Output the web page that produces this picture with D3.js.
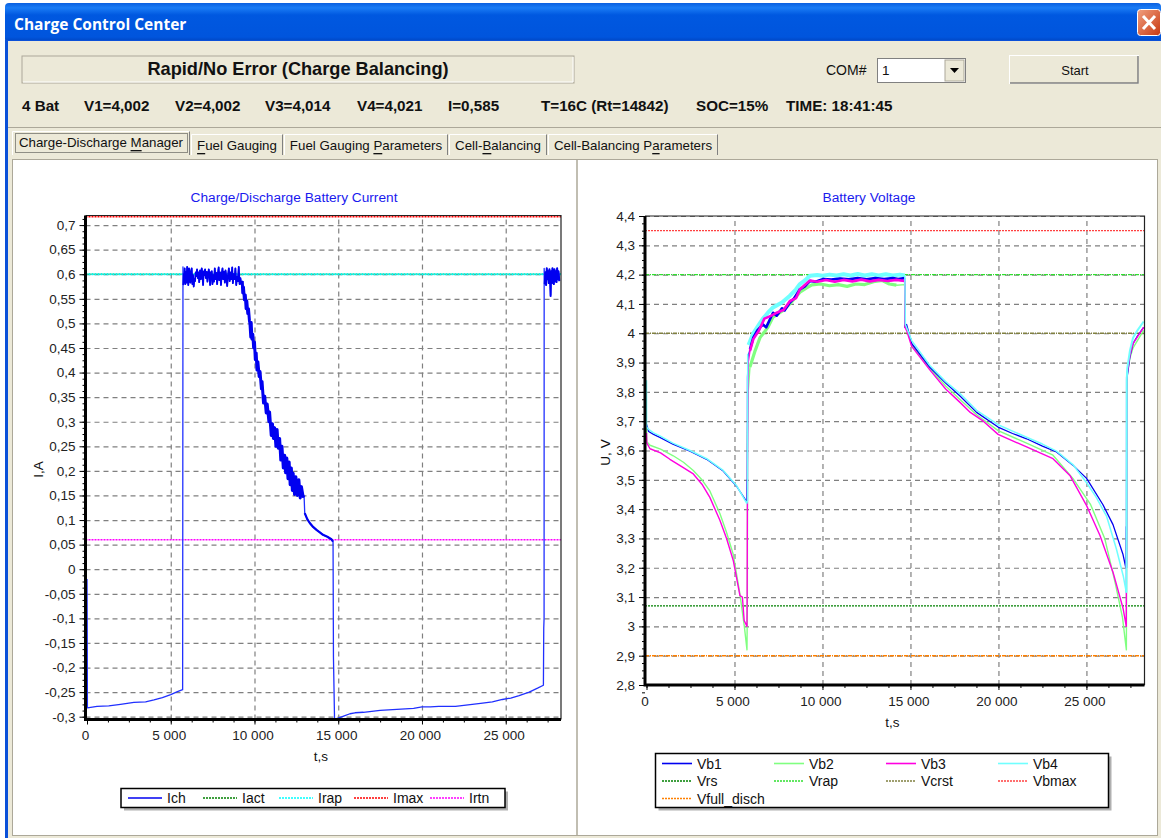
<!DOCTYPE html>
<html>
<head>
<meta charset="utf-8">
<title>Charge Control Center</title>
<script src="https://cdn.jsdelivr.net/npm/d3@7"></script>
<style>
html, body { margin: 0; padding: 0; background: #fff; }
svg { display: block; font-family: "Liberation Sans", Arial, sans-serif; }
.tick text { font-size: 13.5px; fill: #222; }
.grid line { stroke: #808080; stroke-width: 1.2; stroke-dasharray: 5 4; }
.grid path { display: none; }
.minor text { display: none; }
.minor path { display: none; }
</style>
</head>
<body>
<svg id="app" width="1161" height="838"></svg>
<script>
// header text
const statusText = 'Rapid/No Error (Charge Balancing)';
const readouts = [
    ['4 Bat', 22], ['V1=4,002', 84], ['V2=4,002', 175], ['V3=4,014', 265], ['V4=4,021', 357],
    ['I=0,585', 448], ['T=16C (Rt=14842)', 541], ['SOC=15%', 696], ['TIME: 18:41:45', 786]
];
// label, left, right, index of the underlined mnemonic letter
const tabs = [
    ['Charge-Discharge Manager', 12, 190, 17], ['Fuel Gauging', 191, 283, 0], ['Fuel Gauging Parameters', 284, 448, 13],
    ['Cell-Balancing', 449, 547, 5], ['Cell-Balancing Parameters', 548, 718, 16]
];

// shared time axis
const tTicks = [0, 5000, 10000, 15000, 20000, 25000];
const tMinor = d3.range(0, 28250, 1250);

// current chart, values
const iTicks = [0.7,0.65,0.6,0.55,0.5,0.45,0.4,0.35,0.3,0.25,0.2,0.15,0.1,0.05,0,-0.05,-0.1,-0.15,-0.2,-0.25,-0.3];
const ich = [
    [0,-0.02],[10,-0.1],[25,-0.282],[600,-0.279],[1300,-0.278],[2000,-0.275],[2800,-0.271],[3500,-0.27],
    [4000,-0.266],[4500,-0.261],[5000,-0.255],[5400,-0.249],[5710,-0.245],[5730,0.615],
    [5750,0.578],[5780,0.6],[5800,0.585],[5830,0.612],[5870,0.58],[5900,0.605],[5940,0.583],[5980,0.615],[6010,0.59],
    [6050,0.578],[6090,0.612],[6130,0.595],[6170,0.583],[6210,0.606],[6250,0.612],[6290,0.58],[6330,0.598],[6370,0.575],
    [6410,0.59],[6450,0.586],[6490,0.604],[6530,0.596],[6570,0.61],[6620,0.592],[6660,0.604],[6700,0.584],[6750,0.608],
    [6800,0.59],[6850,0.612],[6890,0.6],[6930,0.578],[6970,0.606],[7010,0.598],[7050,0.61],[7100,0.592],[7150,0.605],
    [7190,0.585],[7230,0.598],[7270,0.61],[7310,0.6],[7350,0.578],[7400,0.604],[7450,0.606],[7490,0.58],[7530,0.598],
    [7580,0.585],[7630,0.612],[7670,0.59],[7720,0.603],[7770,0.58],[7810,0.6],[7860,0.614],[7900,0.588],[7950,0.604],
    [8000,0.578],[8040,0.6],[8090,0.612],[8130,0.59],[8180,0.605],[8230,0.583],[8270,0.608],[8320,0.595],[8370,0.576],
    [8420,0.598],[8470,0.612],[8520,0.586],[8570,0.604],[8620,0.59],[8670,0.614],[8710,0.582],[8760,0.6],[8810,0.59],
    [8860,0.612],[8910,0.578],[8960,0.595],[9010,0.586],[9060,0.615],[9110,0.58],[9160,0.592],[9210,0.58],
    [9270,0.586],[9300,0.562],[9340,0.574],[9400,0.548],[9450,0.558],[9500,0.53],[9540,0.546],[9600,0.52],[9640,0.53],
    [9700,0.505],[9730,0.5],[9780,0.472],[9800,0.502],[9850,0.468],[9900,0.478],[9950,0.45],[10000,0.462],[10050,0.426],
    [10100,0.44],[10150,0.405],[10200,0.422],[10280,0.392],[10330,0.402],[10415,0.367],[10450,0.382],[10540,0.338],
    [10610,0.352],[10700,0.318],[10760,0.336],[10860,0.3],[10900,0.32],[11000,0.272],[11070,0.296],[11130,0.266],
    [11200,0.288],[11280,0.25],[11350,0.284],[11420,0.246],[11500,0.266],[11570,0.222],[11640,0.25],[11720,0.206],
    [11800,0.232],[11860,0.196],[11930,0.226],[12000,0.184],[12070,0.218],[12130,0.172],[12200,0.206],[12260,0.16],
    [12310,0.195],[12390,0.152],[12470,0.188],[12560,0.15],[12650,0.182],[12730,0.145],[12800,0.168],[12900,0.148],
    [12960,0.15],[13000,0.114],[13150,0.102],[13300,0.094],[13500,0.086],[13700,0.08],[13900,0.075],[14090,0.07],
    [14350,0.066],[14590,0.061],[14690,0.056],[14715,-0.18],[14780,-0.305],[15000,-0.303],[15400,-0.298],[15700,-0.294],
    [16000,-0.292],[16500,-0.291],[17000,-0.289],[17500,-0.287],[18000,-0.286],[18500,-0.285],[19000,-0.284],[19500,-0.283],
    [20000,-0.28],[20500,-0.28],[21000,-0.279],[22000,-0.279],[22500,-0.277],[23000,-0.275],[23500,-0.273],[24200,-0.27],
    [24800,-0.265],[25300,-0.262],[25800,-0.257],[26400,-0.25],[26900,-0.242],[27250,-0.236],[27270,-0.12],[27290,-0.1],
    [27295,0.612],[27330,0.58],[27370,0.604],[27410,0.578],[27450,0.612],[27490,0.59],[27530,0.606],[27570,0.582],
    [27610,0.61],[27650,0.59],[27680,0.556],[27710,0.606],[27750,0.582],[27790,0.612],[27830,0.594],[27870,0.58],
    [27910,0.61],[27950,0.586],[27990,0.606],[28030,0.584],[28070,0.612],[28110,0.59],[28150,0.606],[28200,0.586]
];
const iact = 0.6, irap = 0.6, imax = 0.717, irtn = 0.06;

// voltage chart, values
const uTicks = [4.4,4.3,4.2,4.1,4,3.9,3.8,3.7,3.6,3.5,3.4,3.3,3.2,3.1,3,2.9,2.8];
const vb1 = [
    [0,3.69],[120,3.665],[400,3.655],[760,3.645],[1500,3.622],[2470,3.598],[3420,3.57],[4360,3.53],[5120,3.478],[5700,3.425],
    [5715,3.5],[5730,3.5],[5740,3.85],[5780,3.92],[5880,3.945],[6070,3.985],[6300,4.01],[6620,4.03],[6800,4.02],[7190,4.07],
    [7400,4.06],[7700,4.085],[7850,4.078],[8150,4.105],[8400,4.12],[8720,4.15],[9000,4.16],[9290,4.178],[9600,4.176],[10050,4.185],
    [10500,4.183],[11000,4.187],[11500,4.184],[12000,4.188],[12500,4.184],[13000,4.188],[13500,4.185],[14000,4.188],[14300,4.185],[14670,4.188],
    [14690,4.02],[14780,4.03],[15070,3.965],[16100,3.884],[17000,3.83],[17800,3.787],[18760,3.73],[19980,3.68],[20800,3.658],[21600,3.64],
    [22500,3.615],[23300,3.595],[24230,3.55],[25010,3.505],[25940,3.415],[26510,3.347],[27080,3.245],[27240,3.2],[27260,3.34],[27280,3.2],
    [27290,3.84],[27470,3.92],[27650,3.965],[27900,3.99],[28250,4.02]
];
const vb2 = [
    [0,3.68],[20,3.63],[200,3.618],[800,3.605],[1520,3.582],[2100,3.56],[2660,3.532],[3150,3.5],[3600,3.462],[4170,3.385],[4550,3.32],
    [4930,3.245],[5310,3.11],[5560,3.0],[5710,2.92],[5730,3.08],[5740,3.66],[5780,3.8],[5880,3.885],[6170,3.94],[6450,3.985],[6900,4.02],
    [7190,4.055],[7700,4.075],[8150,4.1],[8720,4.14],[9100,4.155],[9400,4.165],[9900,4.168],[10400,4.162],[10900,4.166],[11400,4.16],
    [11900,4.168],[12400,4.166],[12900,4.176],[13400,4.18],[13800,4.168],[14200,4.164],[14680,4.166],[14700,4.02],[14780,4.02],[15070,3.96],
    [16100,3.88],[17000,3.82],[17800,3.775],[18760,3.722],[19980,3.668],[21600,3.625],[23100,3.584],[24230,3.505],[25240,3.415],[26040,3.3],
    [26650,3.144],[27050,3.03],[27270,2.92],[27285,3.25],[27290,3.72],[27320,3.86],[27470,3.915],[27650,3.95],[28250,4.01]
];
const vb3 = [
    [0,3.66],[20,3.625],[200,3.606],[800,3.592],[1330,3.57],[2000,3.545],[2660,3.52],[3150,3.485],[3600,3.44],[4170,3.362],[4550,3.3],
    [4930,3.225],[5310,3.105],[5450,3.1],[5550,3.02],[5710,3.0],[5720,3.11],[5740,3.54],[5760,3.72],[5780,3.9],[5880,3.94],[6070,3.98],
    [6400,4.01],[6700,4.05],[7100,4.06],[7400,4.07],[7800,4.08],[8150,4.11],[8500,4.12],[8720,4.15],[9290,4.18],[9700,4.176],[10200,4.182],
    [10700,4.176],[11200,4.182],[11700,4.177],[12200,4.183],[12700,4.177],[13200,4.182],[13700,4.178],[14200,4.182],[14670,4.178],[14690,4.02],
    [14780,4.01],[15070,3.955],[16100,3.875],[17000,3.81],[17800,3.765],[18400,3.73],[19140,3.7],[19980,3.655],[21600,3.612],[23100,3.572],
    [24060,3.515],[25010,3.412],[25770,3.31],[26510,3.185],[27080,3.062],[27265,3.0],[27275,3.3],[27285,3.85],[27470,3.925],[27650,3.965],[28250,4.02]
];
const vb4 = [
    [0,3.84],[5,3.68],[120,3.672],[400,3.66],[760,3.65],[1500,3.625],[2470,3.6],[3420,3.572],[4360,3.532],[5120,3.48],[5700,3.42],[5740,3.43],
    [5750,3.93],[5800,3.96],[6070,4.0],[6400,4.03],[6620,4.05],[6900,4.07],[7190,4.088],[7700,4.105],[8150,4.128],[8500,4.15],[8720,4.168],
    [9000,4.18],[9290,4.196],[9700,4.199],[10000,4.196],[10400,4.2],[10800,4.197],[11200,4.201],[11600,4.197],[12000,4.202],[12400,4.197],
    [12800,4.201],[13200,4.197],[13600,4.201],[14000,4.197],[14400,4.2],[14680,4.197],[14710,4.03],[15070,3.975],[16100,3.89],[17000,3.835],
    [17800,3.795],[18760,3.737],[19980,3.688],[21600,3.645],[22500,3.622],[23300,3.598],[24230,3.552],[25010,3.49],[25560,3.44],[26150,3.375],
    [26700,3.265],[27100,3.17],[27270,3.115],[27290,3.84],[27320,3.88],[27470,3.94],[27650,3.985],[27900,4.01],[28250,4.04]
];
const vrs = 3.07, vrap = 4.2, vcrst = 4, vbmax = 4.35, vfull = 2.9;

const svg = d3.select('#app');
const commaFmt = d => String(+d.toFixed(2)).replace('.', ',');
const timeFmt = d => d === 0 ? '0' : `${d / 1000} 000`;
const sans = '"Liberation Sans", Arial, sans-serif';

function text(s, x, y, opts={}) {
    return svg.append('text').text(s)
        .attr('x', x).attr('y', y)
        .attr('dominant-baseline', 'central')
        .attr('text-anchor', opts.anchor ?? 'start')
        .attr('font-size', opts.size ?? 13)
        .attr('font-weight', opts.weight ?? 'normal')
        .attr('font-family', opts.family ?? sans)
        .attr('fill', opts.color ?? '#111');
}

function rect(x, y, w, h, fill, stroke, rx) {
    return svg.append('rect').attr('x', x).attr('y', y).attr('width', w).attr('height', h)
        .attr('fill', fill).attr('stroke', stroke ?? 'none').attr('rx', rx ?? 0);
}

// --- window chrome ---
const defs = svg.append('defs');
const titleGrad = defs.append('linearGradient').attr('id', 'titlebar').attr('x1', 0).attr('x2', 0).attr('y1', 0).attr('y2', 1);
titleGrad.append('stop').attr('offset', '0%').attr('stop-color', '#0a5fe0');
titleGrad.append('stop').attr('offset', '12%').attr('stop-color', '#1a7cf5');
titleGrad.append('stop').attr('offset', '30%').attr('stop-color', '#0058e0');
titleGrad.append('stop').attr('offset', '85%').attr('stop-color', '#0055dd');
titleGrad.append('stop').attr('offset', '100%').attr('stop-color', '#0040b8');
const closeGrad = defs.append('linearGradient').attr('id', 'closebtn').attr('x1', 0).attr('x2', 1).attr('y1', 0).attr('y2', 1);
closeGrad.append('stop').attr('offset', '0%').attr('stop-color', '#f0a080');
closeGrad.append('stop').attr('offset', '100%').attr('stop-color', '#c83810');

rect(5, 3, 1156, 40, 'url(#titlebar)', null, 4);
rect(5, 40, 1156, 798, '#0a50d8');
rect(8, 41, 1153, 797, '#ece9d8');
text('Charge Control Center', 14, 24, { size: 15.5, weight: 'bold', color: '#fff', family: '"Open Sans", sans-serif' });
rect(1137.5, 9.5, 23, 26, 'url(#closebtn)', '#fff', 3);
svg.append('path').attr('d', 'M1143,16 L1155,29 M1155,16 L1143,29').attr('stroke', '#fff').attr('stroke-width', 3);

rect(22, 56, 552, 27, '#ece9d8', '#aca899');
svg.append('path').attr('d', 'M23,82 H573 V57').attr('fill', 'none').attr('stroke', '#fff');
text(statusText, 298, 69, { size: 18.2, weight: 'bold', anchor: 'middle' });
text('COM#', 826, 70, { size: 14 });
rect(877.5, 58.5, 88, 24, '#fff', '#808080');
text('1', 882, 70, { size: 13.5 });
rect(945, 60, 19, 21, '#ece9d8', '#aca899');
svg.append('path').attr('d', 'M950,68 h9 l-4.5,5 z').attr('fill', '#000');
rect(1009.5, 55.5, 129, 28, '#ece9d8', '#fff');
svg.append('path').attr('d', 'M1010,83 H1138 V56').attr('fill', 'none').attr('stroke', '#808080').attr('stroke-width', 1.5);
text('Start', 1075, 70, { size: 13, anchor: 'middle' });

readouts.forEach(([s, x]) => text(s, x, 105, { size: 15.2, weight: 'bold' }));

svg.append('line').attr('x1', 8).attr('x2', 1161).attr('y1', 127.5).attr('y2', 127.5).attr('stroke', '#aca899');
rect(12.5, 159.5, 1145, 676, '#fff', '#aca899');
svg.append('line').attr('x1', 577).attr('x2', 577).attr('y1', 160).attr('y2', 836).attr('stroke', '#aca899').attr('stroke-width', 1.5);
tabs.forEach(([s, x0, x1, u], i) => {
    const top = i === 0 ? 131 : 134;
    rect(x0 + 0.5, top + 0.5, x1 - x0 - 1, 155 - top, '#ece9d8');
    svg.append('path').attr('d', `M${x0 + 0.5},155 V${top + 0.5} H${x1 - 0.5}`).attr('fill', 'none').attr('stroke', '#fff');
    svg.append('path').attr('d', `M${x1 - 0.5},${top + 0.5} V155`).attr('fill', 'none').attr('stroke', '#808080');
    const label = text('', (x0 + x1) / 2, i === 0 ? 142 : 145, { size: 13.3, anchor: 'middle' });
    label.append('tspan').text(s.slice(0, u));
    label.append('tspan').attr('text-decoration', 'underline').text(s[u]);
    label.append('tspan').text(s.slice(u + 1));
});
rect(15.5, 133.5, 172, 19, 'none', '#333').attr('stroke-dasharray', '1 1');

// --- chart panel ---
function drawPanel({ x0, x1, top, bottom, frameLeft, tDomain, uDomain, yTicks, yMinorStep, title, titleX, yLabel, yLabelX }) {
    const X = d3.scaleLinear().domain(tDomain).range([x0, x1]);
    const Y = d3.scaleLinear().domain(uDomain).range([bottom, top]);
    const g = svg.append('g');
    const gridT = tTicks.slice(1);
    g.append('g').attr('class', 'grid').attr('transform', `translate(0,${bottom})`)
        .call(d3.axisBottom(X).tickValues(gridT).tickSize(-(bottom - top)).tickFormat(''));
    g.append('g').attr('class', 'grid').attr('transform', `translate(${frameLeft},0)`)
        .call(d3.axisLeft(Y).tickValues(yTicks).tickSize(-(x1 - frameLeft)).tickFormat(''));

    const minorY = d3.range(uDomain[0] - uDomain[0] % yMinorStep, uDomain[1], yMinorStep);
    g.append('g').attr('class', 'minor').attr('transform', `translate(${frameLeft},0)`)
        .call(d3.axisLeft(Y).tickValues(minorY).tickSize(3));
    g.append('g').attr('class', 'minor').attr('transform', `translate(0,${bottom})`)
        .call(d3.axisBottom(X).tickValues(tMinor).tickSize(3));

    const yAxis = g.append('g').attr('transform', `translate(${frameLeft},0)`)
        .call(d3.axisLeft(Y).tickValues(yTicks).tickSize(6).tickPadding(4).tickFormat(commaFmt));
    yAxis.select('.domain').remove();
    const xAxis = g.append('g').attr('transform', `translate(0,${bottom})`)
        .call(d3.axisBottom(X).tickValues(tTicks).tickSize(5).tickPadding(6).tickFormat(timeFmt));
    xAxis.select('.domain').remove();
    xAxis.selectAll('text').attr('dx', -2);

    const line = d3.line().x(d => X(d[0])).y(d => Y(d[1])).curve(d3.curveLinear);
    const plotArea = g.append('g');
    const hline = (value, color, dash, width=1.4) => plotArea.append('line')
        .attr('x1', frameLeft).attr('x2', x1).attr('y1', Y(value)).attr('y2', Y(value))
        .attr('stroke', color).attr('stroke-width', width).attr('stroke-dasharray', dash);
    const series = (data, color, width) => plotArea.append('path').datum(data)
        .attr('d', line).attr('fill', 'none').attr('stroke', color).attr('stroke-width', width)
        .attr('stroke-linejoin', 'round');

    // frame under the marks at the top, thick spines over them
    g.append('path').attr('d', `M${frameLeft},${top} H${x1} V${bottom}`).attr('fill', 'none').attr('stroke', '#222').attr('stroke-width', 1.2);
    g.append('path').attr('d', `M${frameLeft},${top} V${bottom} H${x1}`).attr('fill', 'none').attr('stroke', '#000').attr('stroke-width', 3);

    text(title, titleX, 197.5, { size: 13.7, anchor: 'middle', color: '#1a1aee' });
    text('t,s', (x0 + x1) / 2 - 3, bottom + 37, { size: 13.5, anchor: 'middle' });
    text(yLabel, 0, 0, { size: 13.5, anchor: 'middle' }).attr('transform', `translate(${yLabelX},${(top + bottom) / 2 + 2}) rotate(-90)`);
    return { hline, series };
}

function drawLegend(box, items) {
    rect(box[0] + 3, box[1] + 3, box[2], box[3], '#b0b0b0');
    rect(box[0], box[1], box[2], box[3], '#fff', '#000').attr('stroke-width', 1.5);
    items.forEach(d => {
        svg.append('line').attr('x1', d.x).attr('x2', d.x + d.len).attr('y1', d.y).attr('y2', d.y)
            .attr('stroke', d.color).attr('stroke-width', d.dash ? 1.4 : 1.6).attr('stroke-dasharray', d.dash ?? null);
        text(d.label, d.x + d.len + 5, d.y, { size: 14 });
    });
}

const between = (data, from, to) => data.filter(d => d[0] >= from && d[0] <= to);

// --- left: current ---
const left = drawPanel({
    x0: 87, x1: 561, top: 215.5, bottom: 719.5, frameLeft: 85.5,
    tDomain: [0, 28300], uDomain: [-0.3057, 0.7195], yTicks: iTicks, yMinorStep: 0.0125,
    title: 'Charge/Discharge Battery Current', titleX: 294, yLabel: 'I,A', yLabelX: 38
});
left.hline(iact, '#008000', '2 1');
left.hline(irap, '#00ffff', '2 1', 1.8);
left.hline(imax, '#ff0000', '2 1');
left.hline(irtn, '#ff00ff', '2 1');
left.series(ich, '#2030ff', 1.3);
// the noisy stretches read as a solid thick band in the picture
left.series(between(ich, 5750, 9270), '#0000f0', 1.8);
left.series(between(ich, 9270, 12960), '#0000f0', 3);
left.series(between(ich, 13000, 14690), '#0000f0', 2.2);
left.series(between(ich, 27330, 28200), '#0000f0', 2);

const currentLegend = [
    ['Ich', 128, '#0000f0', null], ['Iact', 203, '#008000', '2 1'], ['Irap', 279, '#00ffff', '2 1'],
    ['Imax', 354, '#ff0000', '2 1'], ['Irtn', 430, '#ff00ff', '2 1']
];
drawLegend([121, 788.5, 384, 19], currentLegend.map(([label, x, color, dash]) => ({ label, x, y: 798, len: 34, color, dash })));

// --- right: voltage ---
const right = drawPanel({
    x0: 646.5, x1: 1144.5, top: 216, bottom: 685, frameLeft: 645,
    tDomain: [0, 28300], uDomain: [2.8, 4.4], yTicks: uTicks, yMinorStep: 0.025,
    title: 'Battery Voltage', titleX: 869, yLabel: 'U, V', yLabelX: 605
});
right.hline(vrs, '#008000', '2 1');
right.hline(vrap, '#30e030', '4 1 1 1');
right.hline(vcrst, '#808040', '4 1 1 1');
right.hline(vbmax, '#ff4040', '2 1');
right.hline(vfull, '#ff8000', '4 1 1 1');
const chargeBand = [5880, 14670];
right.series(between(vb4, 5800, 14680), '#70ffff', 4);
right.series(between(vb2, ...chargeBand), '#80ff80', 3.2);
right.series(vb2, '#80ff80', 1.4);
right.series(between(vb1, ...chargeBand), '#0000f0', 2.6);
right.series(vb1, '#0000f0', 1.3);
right.series(between(vb3, ...chargeBand), '#ff00e0', 2.6);
right.series(vb3, '#ff00e0', 1.4);
// cyan lies over the blue on the discharge stretches
right.series(between(vb4, 0, 5750), '#70ffff', 1.5);
right.series(between(vb4, 14680, 27270), '#70ffff', 1.5);
right.series(between(vb4, 27270, 28250), '#70ffff', 2);

const voltageLegend = [
    ['Vb1', 662, 763.5, '#0000f0', null], ['Vb2', 774, 763.5, '#80ff80', null], ['Vb3', 886, 763.5, '#ff00e0', null], ['Vb4', 998, 763.5, '#70ffff', null],
    ['Vrs', 662, 781, '#008000', '2 1'], ['Vrap', 774, 781, '#30e030', '2 1'], ['Vcrst', 886, 781, '#808040', '2 1'], ['Vbmax', 998, 781, '#ff4040', '2 1'],
    ['Vfull_disch', 662, 798.5, '#ff8000', '2 1']
];
drawLegend([655.5, 753.5, 453, 54], voltageLegend.map(([label, x, y, color, dash]) => ({ label, x, y, len: 30, color, dash })));
</script>
</body>
</html>
